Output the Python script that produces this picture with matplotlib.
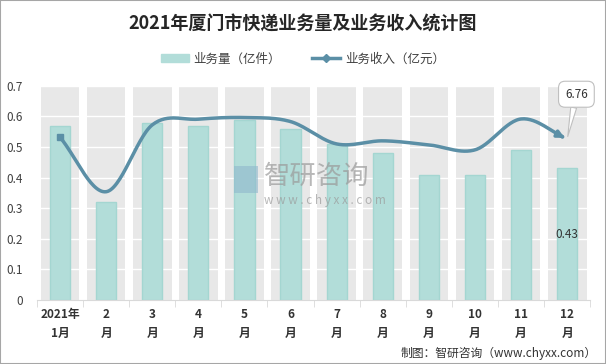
import numpy as np
import matplotlib
matplotlib.use('Agg')
import matplotlib.pyplot as plt
from matplotlib import patches
from matplotlib.lines import Line2D

plt.rcParams['font.family'] = ['Noto Sans CJK SC', 'DejaVu Sans']

months = ['2021年\n1月', '2\n月', '3\n月', '4\n月', '5\n月', '6\n月',
          '7\n月', '8\n月', '9\n月', '10\n月', '11\n月', '12\n月']
volume = [0.57, 0.32, 0.58, 0.57, 0.59, 0.56, 0.51, 0.48, 0.41, 0.41, 0.49, 0.43]
revenue = [6.84, 4.55, 7.36, 7.60, 7.67, 7.50, 6.56, 6.69, 6.52, 6.31, 7.61, 6.76]

bar_color = '#b2ddd9'
line_color = '#5b8fa6'


def smooth(x, y, n=30):
    # catmull-rom, only used to draw the curve through the points
    px = np.concatenate([[2 * x[0] - x[1]], x, [2 * x[-1] - x[-2]]])
    py = np.concatenate([[2 * y[0] - y[1]], y, [2 * y[-1] - y[-2]]])
    xs, ys = [], []
    for i in range(1, len(px) - 2):
        t = np.linspace(0, 1, n, endpoint=False)
        for p, out in ((px, xs), (py, ys)):
            p0, p1, p2, p3 = p[i - 1], p[i], p[i + 1], p[i + 2]
            out.extend(0.5 * (2 * p1 + (-p0 + p2) * t
                              + (2 * p0 - 5 * p1 + 4 * p2 - p3) * t ** 2
                              + (-p0 + 3 * p1 - 3 * p2 + p3) * t ** 3))
    xs.append(x[-1])
    ys.append(y[-1])
    return np.array(xs), np.array(ys)


fig = plt.figure(figsize=(6.06, 3.64), dpi=100)
fig.patches.append(patches.Rectangle((0, 0), 1, 1, transform=fig.transFigure,
                                     fill=False, ec='#a6a6a6', lw=1.5))
ax = fig.add_axes([0.061, 0.176, 0.913, 0.588])
x = np.arange(len(months))

# gray category bands
for i in x:
    ax.axvspan(i - 0.42, i + 0.42, color='#e8e8e8', zorder=0, lw=0)
for v in np.arange(0.1, 0.71, 0.1):
    ax.axhline(v, color='white', lw=1, zorder=1)

ax.bar(x, volume, width=0.44, color=bar_color, ec='#a4d6d1', lw=1, zorder=2)
ax.text(x[-1], 0.215, '0.43', ha='center', va='center', fontsize=8.5,
        color='#333333', zorder=5)

ax.set_xlim(-0.5, len(months) - 0.5)
ax.set_ylim(0, 0.7)
ax.set_yticks(np.arange(0, 0.71, 0.1))
ax.set_yticklabels(['0', '0.1', '0.2', '0.3', '0.4', '0.5', '0.6', '0.7'],
                   fontsize=8.5, color='#404040')
ax.set_xticks(x)
ax.set_xticklabels(months, fontsize=8.5, fontweight='bold', color='#333333',
                   linespacing=1.6)
ax.set_xticks(np.arange(-0.5, len(months)), minor=True)
ax.tick_params(axis='x', which='major', length=0, pad=6)
ax.tick_params(axis='x', which='minor', length=5, color='#d9d9d9')
ax.tick_params(axis='y', length=0, pad=10)
for s in ['top', 'right', 'left']:
    ax.spines[s].set_visible(False)
ax.spines['bottom'].set_color('#d9d9d9')

# revenue on hidden secondary scale
ax2 = ax.twinx()
ax2.set_ylim(0, 9)
ax2.axis('off')
sx, sy = smooth(x.astype(float), np.array(revenue))
ax2.plot(sx[:-3], sy[:-3], color=line_color, lw=2.5, zorder=4,
         solid_capstyle='round')
ax2.plot(x[0], revenue[0], marker='s', color=line_color, ms=5, zorder=5)
ax2.annotate('', xy=(x[-1], revenue[-1]), xytext=(sx[-6], sy[-6]),
             arrowprops=dict(arrowstyle='-|>', color=line_color, lw=2.5,
                             mutation_scale=10))
ax2.annotate('6.76', xy=(x[-1], revenue[-1]), xytext=(x[-1] + 0.2, 8.65),
             ha='center', va='center', fontsize=8.5, color='#333333',
             bbox=dict(boxstyle='round,pad=0.55', fc='white', ec='#bfbfbf', lw=0.8),
             arrowprops=dict(arrowstyle='wedge,tail_width=0.5', fc='white',
                             ec='#bfbfbf', lw=0.8, shrinkA=0, shrinkB=2))

# watermark
fig.text(0.435, 0.515, '智研咨询', fontsize=19, color='#9a9a9a', alpha=0.7,
         ha='left', va='center')
fig.text(0.435, 0.45, 'w w w . c h y x x . c o m', fontsize=8.5, color='#9a9a9a',
         alpha=0.7, ha='left', va='center')
fig.patches.append(patches.Rectangle((0.386, 0.47), 0.04, 0.075,
                                     transform=fig.transFigure, fc='#8fb8cc',
                                     alpha=0.6, lw=0))

fig.text(0.5, 0.935, '2021年厦门市快递业务量及业务收入统计图', ha='center',
         va='center', fontsize=13, fontweight='bold', color='#262626')

handles = [patches.Patch(fc=bar_color, ec=bar_color),
           Line2D([], [], color=line_color, lw=2.5, marker='D', ms=4)]
fig.legend(handles, ['业务量（亿件）', '业务收入（亿元）'], loc='center',
           bbox_to_anchor=(0.5, 0.838), ncol=2, frameon=False, fontsize=9,
           handlelength=2.2, columnspacing=2.5, handletextpad=0.4,
           labelcolor='#404040')

fig.text(0.985, 0.03, '制图：智研咨询（www.chyxx.com）', ha='right', va='center',
         fontsize=8.5, color='#333333')

fig.savefig('out.png', dpi=100)
